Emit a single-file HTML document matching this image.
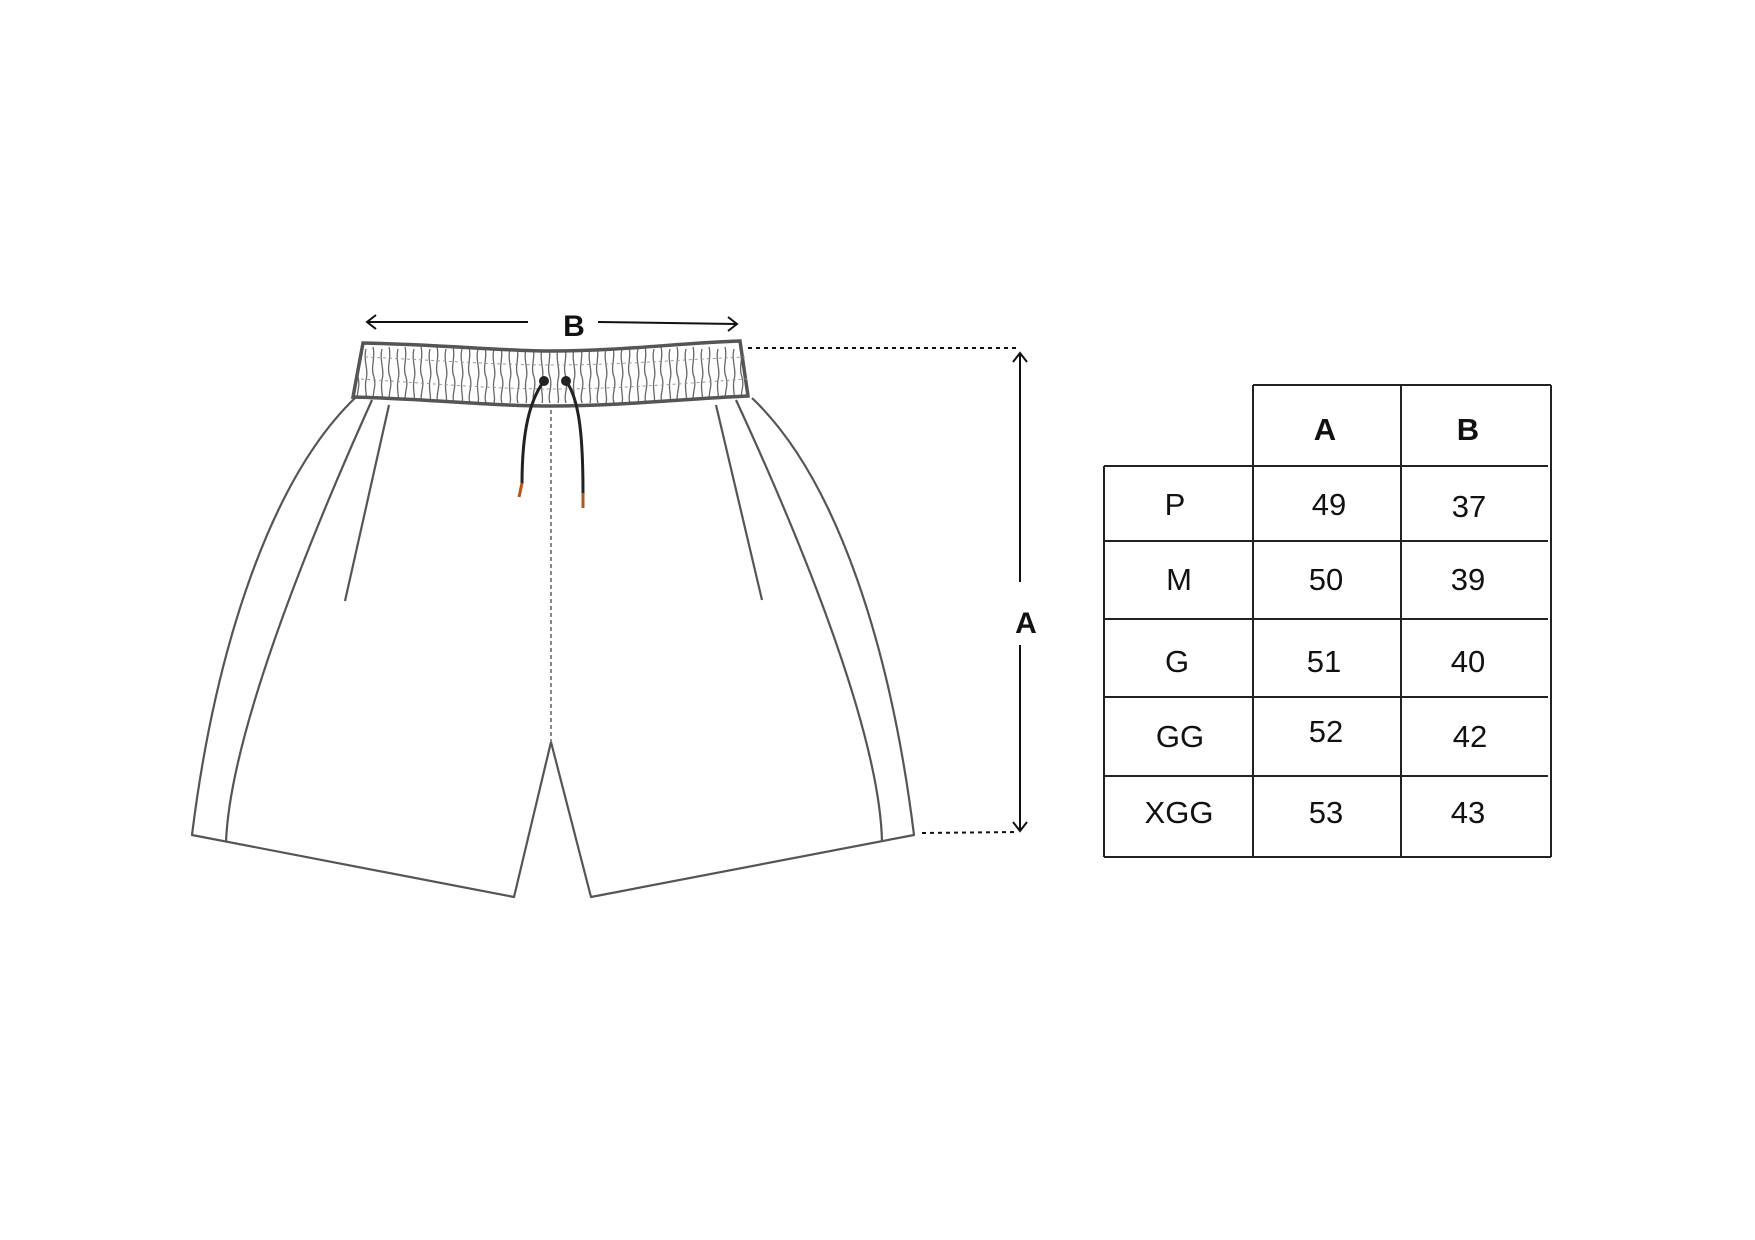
<!DOCTYPE html>
<html><head><meta charset="utf-8"><style>
html,body{margin:0;padding:0;background:#fff;}
svg{display:block}
text{font-family:"Liberation Sans",sans-serif;}
</style></head><body>
<svg width="1755" height="1240" viewBox="0 0 1755 1240" xmlns="http://www.w3.org/2000/svg">
<defs>
<pattern id="sq" width="16" height="60" patternUnits="userSpaceOnUse" x="363" y="345">
<path d="M3 4 C0 15,6 25,3 35 C1 45,5 52,3 58 M10 2 C13 12,7 22,11 32 C14 42,8 50,11 58" stroke="#666" stroke-width="1.3" fill="none"/>
</pattern>
</defs>
<!-- B arrow -->
<g stroke="#111" stroke-width="2" fill="none">
<line x1="368" y1="322" x2="528" y2="322"/><path d="M376 315 L367 322 L376 329"/>
<line x1="598" y1="322" x2="736" y2="324"/><path d="M728 317 L737 324 L728 331"/>
</g>
<text x="574" y="336" font-size="30" font-weight="bold" text-anchor="middle" fill="#111">B</text>
<!-- A arrow -->
<g stroke="#111" stroke-width="2" fill="none">
<line x1="748" y1="348" x2="1018" y2="348" stroke-dasharray="4,4"/>
<line x1="922" y1="833" x2="1018" y2="832" stroke-dasharray="4,4"/>
<line x1="1020" y1="354" x2="1020" y2="582"/>
<line x1="1020" y1="645" x2="1020" y2="830"/>
<path d="M1013 362 L1020 353 L1027 362"/><path d="M1013 822 L1020 831 L1027 822"/>
</g>
<text x="1026" y="633" font-size="30" font-weight="bold" text-anchor="middle" fill="#111">A</text>
<!-- shorts -->
<g stroke="#555" stroke-width="2.2" fill="none" stroke-linejoin="round">
<path d="M355 398 C270 480,215 650,192 835 L514 897 L551 742 L591 897 L914 835 C891 650,838 480,752 398"/>
<path d="M389 405 L345 601"/>
<path d="M716 405 L762 600"/>
<path d="M372 400 C300 560,230 740,226 842"/>
<path d="M736 400 C810 560,880 740,882 842"/>
</g>
<line x1="551" y1="410" x2="551" y2="742" stroke="#888" stroke-width="2" stroke-dasharray="4,3"/>
<!-- waistband -->
<path d="M363 343 C450 345,500 351,553 351 C620 351,680 343,740 341 L748 396 C680 399,620 406,553 406 C490 406,430 399,353 397 Z" fill="url(#sq)" stroke="#555" stroke-width="3.5"/>
<path d="M365 357 C450 361,500 365,553 365 C620 365,690 359,745 357" stroke="#999" stroke-width="1" stroke-dasharray="3,3" fill="none"/>
<path d="M361 379 C450 385,500 389,553 389 C620 389,690 383,747 379" stroke="#999" stroke-width="1" stroke-dasharray="3,3" fill="none"/>
<!-- drawstring -->
<path d="M544 381 C530 400,522 430,522 484" stroke="#222" stroke-width="3" fill="none"/>
<path d="M566 381 C580 400,583 440,583 494" stroke="#222" stroke-width="3" fill="none"/>
<line x1="522" y1="483" x2="519" y2="497" stroke="#b5561d" stroke-width="3"/>
<line x1="583" y1="493" x2="583" y2="508" stroke="#b5561d" stroke-width="3"/>
<circle cx="544" cy="381" r="5" fill="#222"/><circle cx="566" cy="381" r="5" fill="#222"/>
<!-- table -->
<g stroke="#222" stroke-width="2" fill="none">
<line x1="1253" y1="385" x2="1551" y2="385"/>
<line x1="1551" y1="385" x2="1551" y2="857"/>
<line x1="1253" y1="385" x2="1253" y2="857"/>
<line x1="1401" y1="385" x2="1401" y2="857"/>
<line x1="1104" y1="466" x2="1548" y2="466"/>
<line x1="1104" y1="466" x2="1104" y2="857"/>
<line x1="1104" y1="857" x2="1551" y2="857"/>
<line x1="1104" y1="541" x2="1548" y2="541"/>
<line x1="1104" y1="619" x2="1548" y2="619"/>
<line x1="1104" y1="697" x2="1548" y2="697"/>
<line x1="1104" y1="776" x2="1548" y2="776"/>
</g>
<g font-size="31" fill="#111" text-anchor="middle">
<text x="1325" y="440" font-weight="bold">A</text><text x="1468" y="440" font-weight="bold">B</text>
<text x="1175" y="515">P</text><text x="1329" y="515">49</text><text x="1469" y="517">37</text>
<text x="1179" y="590">M</text><text x="1326" y="590">50</text><text x="1468" y="590">39</text>
<text x="1177" y="672">G</text><text x="1324" y="672">51</text><text x="1468" y="672">40</text>
<text x="1180" y="747">GG</text><text x="1326" y="742">52</text><text x="1470" y="747">42</text>
<text x="1179" y="823">XGG</text><text x="1326" y="823">53</text><text x="1468" y="823">43</text>
</g>
</svg>
</body></html>
